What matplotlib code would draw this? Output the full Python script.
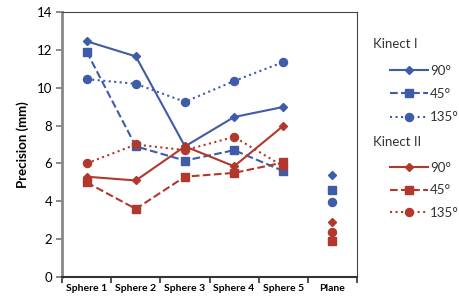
import matplotlib
matplotlib.use("Agg")
import matplotlib.pyplot as plt

plt.rcParams["font.family"] = ["Lato", "DejaVu Sans"]

categories = ["Sphere 1", "Sphere 2", "Sphere 3", "Sphere 4", "Sphere 5", "Plane"]

# Kinect I, values on the five spheres, then plane
k1_90 = [12.45, 11.65, 6.9, 8.45, 8.98]
k1_45 = [11.9, 6.9, 6.15, 6.7, 5.6]
k1_135 = [10.45, 10.2, 9.25, 10.35, 11.35]
k1_plane = [5.4, 4.6, 3.95]

# Kinect II
k2_90 = [5.3, 5.1, 6.9, 5.85, 7.98]
k2_45 = [5.0, 3.6, 5.3, 5.5, 6.05]
k2_135 = [6.0, 7.0, 6.7, 7.4, 5.85]
k2_plane = [2.9, 1.9, 2.4]

blue = "#3f5ca8"
red = "#b2382d"

fig = plt.figure(figsize=(4.6, 2.97), dpi=100)
ax = fig.add_axes([0.135, 0.067, 0.641, 0.893])

x = list(range(5))
styles = [("-", "D", 3.8), ("--", "s", 5.5), (":", "o", 5.8)]

handles1 = []
for ys, (ls, mk, ms) in zip([k1_90, k1_45, k1_135], styles):
    h, = ax.plot(x, ys, color=blue, ls=ls, lw=1.5, marker=mk, ms=ms)
    handles1.append(h)
handles2 = []
for ys, (ls, mk, ms) in zip([k2_90, k2_45, k2_135], styles):
    h, = ax.plot(x, ys, color=red, ls=ls, lw=1.5, marker=mk, ms=ms)
    handles2.append(h)

# plane values: markers only
for v, (ls, mk, ms) in zip(k1_plane, styles):
    ax.plot([5], [v], color=blue, marker=mk, ms=ms, ls="none")
for v, (ls, mk, ms) in zip(k2_plane, styles):
    ax.plot([5], [v], color=red, marker=mk, ms=ms, ls="none")

ax.set_xlim(-0.5, 5.5)
ax.set_ylim(0, 14)
ax.set_yticks(range(0, 15, 2))
ax.set_xticks(range(6))
ax.set_xticklabels(categories, fontsize=7.5, fontweight="bold")
ax.set_xticks([i + 0.5 for i in range(-1, 6)], minor=True)
ax.tick_params(axis="x", which="major", length=0, pad=5)
ax.tick_params(axis="x", which="minor", length=4, width=1.2, color="#333333")
ax.tick_params(axis="y", labelsize=9.5, length=4, width=1.2, color="#777777", pad=3)
ax.set_ylabel("Precision (mm)", fontsize=9.5, fontweight="bold", labelpad=6)

ax.spines["left"].set_color("#888888")
ax.spines["left"].set_linewidth(2)
ax.spines["bottom"].set_color("#333333")
ax.spines["bottom"].set_linewidth(1.5)
ax.spines["top"].set_color("#444444")
ax.spines["right"].set_color("#444444")

labels = ["90°", "45°", "135°"]
fig.text(0.81, 0.84, "Kinect I", fontsize=9.5, color="#333333")
fig.text(0.81, 0.51, "Kinect II", fontsize=9.5, color="#333333")
leg1 = fig.legend(handles1, labels, loc="upper left", bbox_to_anchor=(0.848, 0.782),
                  frameon=False, fontsize=9.5, handlelength=2.9, labelspacing=0.85,
                  handletextpad=0.15, borderaxespad=0, borderpad=0)
leg2 = fig.legend(handles2, labels, loc="upper left", bbox_to_anchor=(0.848, 0.455),
                  frameon=False, fontsize=9.5, handlelength=2.9, labelspacing=0.8,
                  handletextpad=0.15, borderaxespad=0, borderpad=0)
for leg in (leg1, leg2):
    for t in leg.get_texts():
        t.set_color("#333333")

fig.savefig("out.png", dpi=100)
